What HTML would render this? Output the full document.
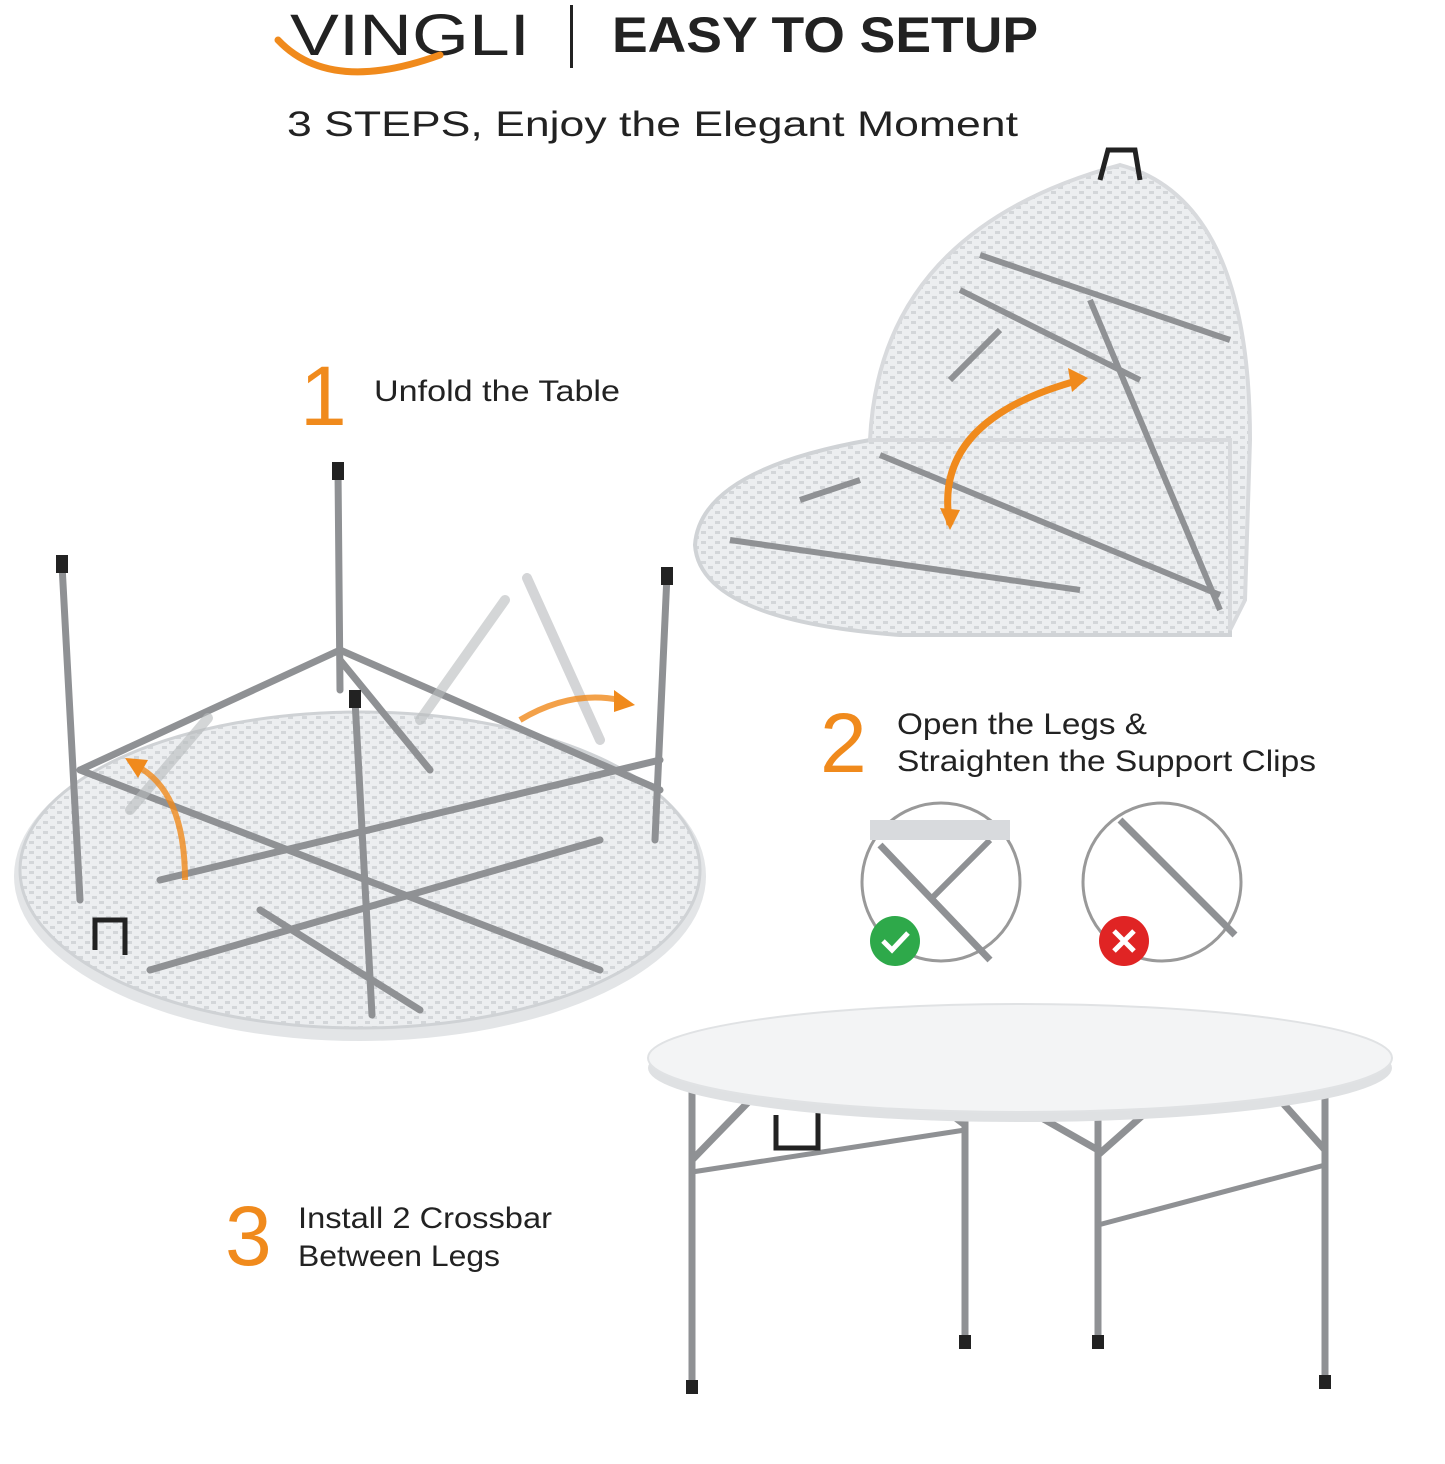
<!DOCTYPE html>
<html><head><meta charset="utf-8"><style>
body{margin:0;background:#fff;}
svg{display:block}
text{font-family:"Liberation Sans","DejaVu Sans",sans-serif;}
</style></head><body>
<svg width="1445" height="1464" viewBox="0 0 1445 1464" xmlns="http://www.w3.org/2000/svg">
<defs>
<pattern id="wv" width="14" height="10" patternUnits="userSpaceOnUse">
<rect width="14" height="10" fill="#eceef0"/>
<rect x="1" y="1" width="5" height="3" fill="#d3d6d9"/>
<rect x="8" y="6" width="5" height="3" fill="#d3d6d9"/>
</pattern>
</defs>
<!-- Header -->
<text x="290" y="55" font-size="58" fill="#222" textLength="240" lengthAdjust="spacingAndGlyphs">VINGLI</text>
<path d="M278 40 Q330 95 440 55" stroke="#f08a1c" stroke-width="7" fill="none" stroke-linecap="round"/>
<rect x="570" y="5" width="3" height="63" fill="#222"/>
<text x="612" y="52" font-size="50" font-weight="bold" fill="#222" textLength="426" lengthAdjust="spacingAndGlyphs">EASY TO SETUP</text>
<text x="287" y="136" font-size="35" fill="#222" textLength="731" lengthAdjust="spacingAndGlyphs">3 STEPS, Enjoy the Elegant Moment</text>

<!-- Step 1 label -->
<text x="300" y="425" font-size="84" fill="#f08a1c">1</text>
<text x="374" y="401" font-size="30" fill="#222" textLength="246" lengthAdjust="spacingAndGlyphs">Unfold the Table</text>

<!-- Half folded table -->
<path d="M695 545 Q700 470 870 440 L1230 440 L1230 635 L900 635 Q700 620 695 545Z" fill="url(#wv)" stroke="#d0d3d6" stroke-width="4"/>
<path d="M870 440 Q880 230 1120 165 Q1250 200 1250 440 L1245 600 L1230 630 L1230 440 Z" fill="url(#wv)" stroke="#d8dadd" stroke-width="4"/>
<g stroke="#8f9194" stroke-width="6" fill="none">
<line x1="880" y1="455" x2="1220" y2="595"/>
<line x1="980" y1="255" x2="1230" y2="340"/>
<line x1="960" y1="290" x2="1140" y2="380"/>
<line x1="1090" y1="300" x2="1220" y2="610"/>
<line x1="1000" y1="330" x2="950" y2="380"/>
<line x1="730" y1="540" x2="1080" y2="590"/>
<line x1="800" y1="500" x2="860" y2="480"/>
</g>
<path d="M1100 180 L1108 150 L1135 150 L1140 180" stroke="#222" stroke-width="5" fill="none"/>
<path d="M950 525 Q930 420 1080 380" stroke="#f08a1c" stroke-width="7" fill="none"/>
<polygon points="1088,378 1068,368 1072,392" fill="#f08a1c"/>
<polygon points="950,530 940,508 960,510" fill="#f08a1c"/>

<!-- Upside down round table -->
<ellipse cx="360" cy="876" rx="346" ry="165" fill="#e3e5e7"/>
<ellipse cx="360" cy="870" rx="340" ry="158" fill="url(#wv)" stroke="#cfd2d5" stroke-width="3"/>
<g stroke="#8f9194" stroke-width="7" fill="none" stroke-linecap="round">
<line x1="62" y1="565" x2="80" y2="900"/>
<line x1="338" y1="470" x2="340" y2="690"/>
<line x1="667" y1="575" x2="655" y2="840"/>
<line x1="355" y1="700" x2="372" y2="1015"/>
<line x1="80" y1="770" x2="340" y2="650"/>
<line x1="80" y1="770" x2="600" y2="970"/>
<line x1="160" y1="880" x2="660" y2="760"/>
<line x1="340" y1="650" x2="660" y2="790"/>
<line x1="150" y1="970" x2="600" y2="840"/>
<line x1="260" y1="910" x2="420" y2="1010"/>
<line x1="340" y1="660" x2="430" y2="770"/>
</g>
<g stroke="#b8babd" stroke-width="10" fill="none" stroke-linecap="round" opacity=".6">
<line x1="505" y1="600" x2="420" y2="720"/>
<line x1="527" y1="578" x2="600" y2="740"/>
<line x1="208" y1="718" x2="130" y2="810"/>
</g>
<rect x="56" y="555" width="12" height="18" fill="#222"/>
<rect x="332" y="462" width="12" height="18" fill="#222"/>
<rect x="661" y="567" width="12" height="18" fill="#222"/>
<rect x="349" y="690" width="12" height="18" fill="#222"/>
<path d="M95 950 L95 920 L125 920 L125 955" stroke="#222" stroke-width="5" fill="none"/>
<path d="M520 720 Q570 690 620 700" stroke="#f08a1c" stroke-width="6" fill="none" opacity=".8"/>
<polygon points="635,705 614,690 614,712" fill="#f08a1c"/>
<path d="M185 880 Q185 790 135 765" stroke="#f08a1c" stroke-width="6" fill="none" opacity=".8"/>
<polygon points="125,758 148,760 138,778" fill="#f08a1c"/>

<!-- Step 2 -->
<text x="820" y="772" font-size="84" fill="#f08a1c">2</text>
<text x="897" y="734" font-size="30" fill="#222" textLength="250" lengthAdjust="spacingAndGlyphs">Open the Legs &amp;</text>
<text x="897" y="771" font-size="30" fill="#222" textLength="419" lengthAdjust="spacingAndGlyphs">Straighten the Support Clips</text>
<circle cx="941" cy="882" r="79" fill="#fff" stroke="#999" stroke-width="3"/>
<circle cx="1162" cy="882" r="79" fill="#fff" stroke="#999" stroke-width="3"/>
<line x1="880" y1="845" x2="990" y2="960" stroke="#8f9194" stroke-width="7"/>
<line x1="990" y1="840" x2="930" y2="900" stroke="#8f9194" stroke-width="6"/>
<rect x="870" y="820" width="140" height="20" fill="#d8dadd"/>
<line x1="1120" y1="820" x2="1235" y2="935" stroke="#8f9194" stroke-width="7"/>
<circle cx="895" cy="941" r="25" fill="#2ea94a"/>
<path d="M883 941 L892 950 L908 933" stroke="#fff" stroke-width="5" fill="none"/>
<circle cx="1124" cy="941" r="25" fill="#e02424"/>
<path d="M1114 931 L1134 951 M1134 931 L1114 951" stroke="#fff" stroke-width="5"/>

<!-- Step 3 -->
<text x="225" y="1265" font-size="84" fill="#f08a1c">3</text>
<text x="298" y="1228" font-size="30" fill="#222" textLength="254" lengthAdjust="spacingAndGlyphs">Install 2 Crossbar</text>
<text x="298" y="1266" font-size="30" fill="#222" textLength="202" lengthAdjust="spacingAndGlyphs">Between Legs</text>

<!-- Standing table -->
<g stroke="#8f9194" stroke-width="7" fill="none">
<line x1="692" y1="1090" x2="692" y2="1390"/>
<line x1="965" y1="1110" x2="965" y2="1345"/>
<line x1="1098" y1="1110" x2="1098" y2="1345"/>
<line x1="1325" y1="1090" x2="1325" y2="1385"/>
<line x1="692" y1="1160" x2="760" y2="1090"/>
<line x1="965" y1="1125" x2="925" y2="1095"/>
<line x1="1098" y1="1155" x2="1160" y2="1100"/>
<line x1="1098" y1="1150" x2="1010" y2="1100"/>
<line x1="1325" y1="1150" x2="1280" y2="1100"/>
<line x1="692" y1="1172" x2="965" y2="1130" stroke-width="5"/>
<line x1="1098" y1="1225" x2="1325" y2="1165" stroke-width="5"/>
</g>
<rect x="686" y="1380" width="12" height="14" fill="#222"/>
<rect x="959" y="1335" width="12" height="14" fill="#222"/>
<rect x="1092" y="1335" width="12" height="14" fill="#222"/>
<rect x="1319" y="1375" width="12" height="14" fill="#222"/>
<path d="M776 1115 L776 1148 L818 1148 L818 1110" stroke="#222" stroke-width="5" fill="none"/>
<ellipse cx="1020" cy="1068" rx="372" ry="54" fill="#dfe1e3"/>
<ellipse cx="1020" cy="1058" rx="372" ry="54" fill="#f3f4f5" stroke="#e0e2e4" stroke-width="2"/>
</svg>
</body></html>
